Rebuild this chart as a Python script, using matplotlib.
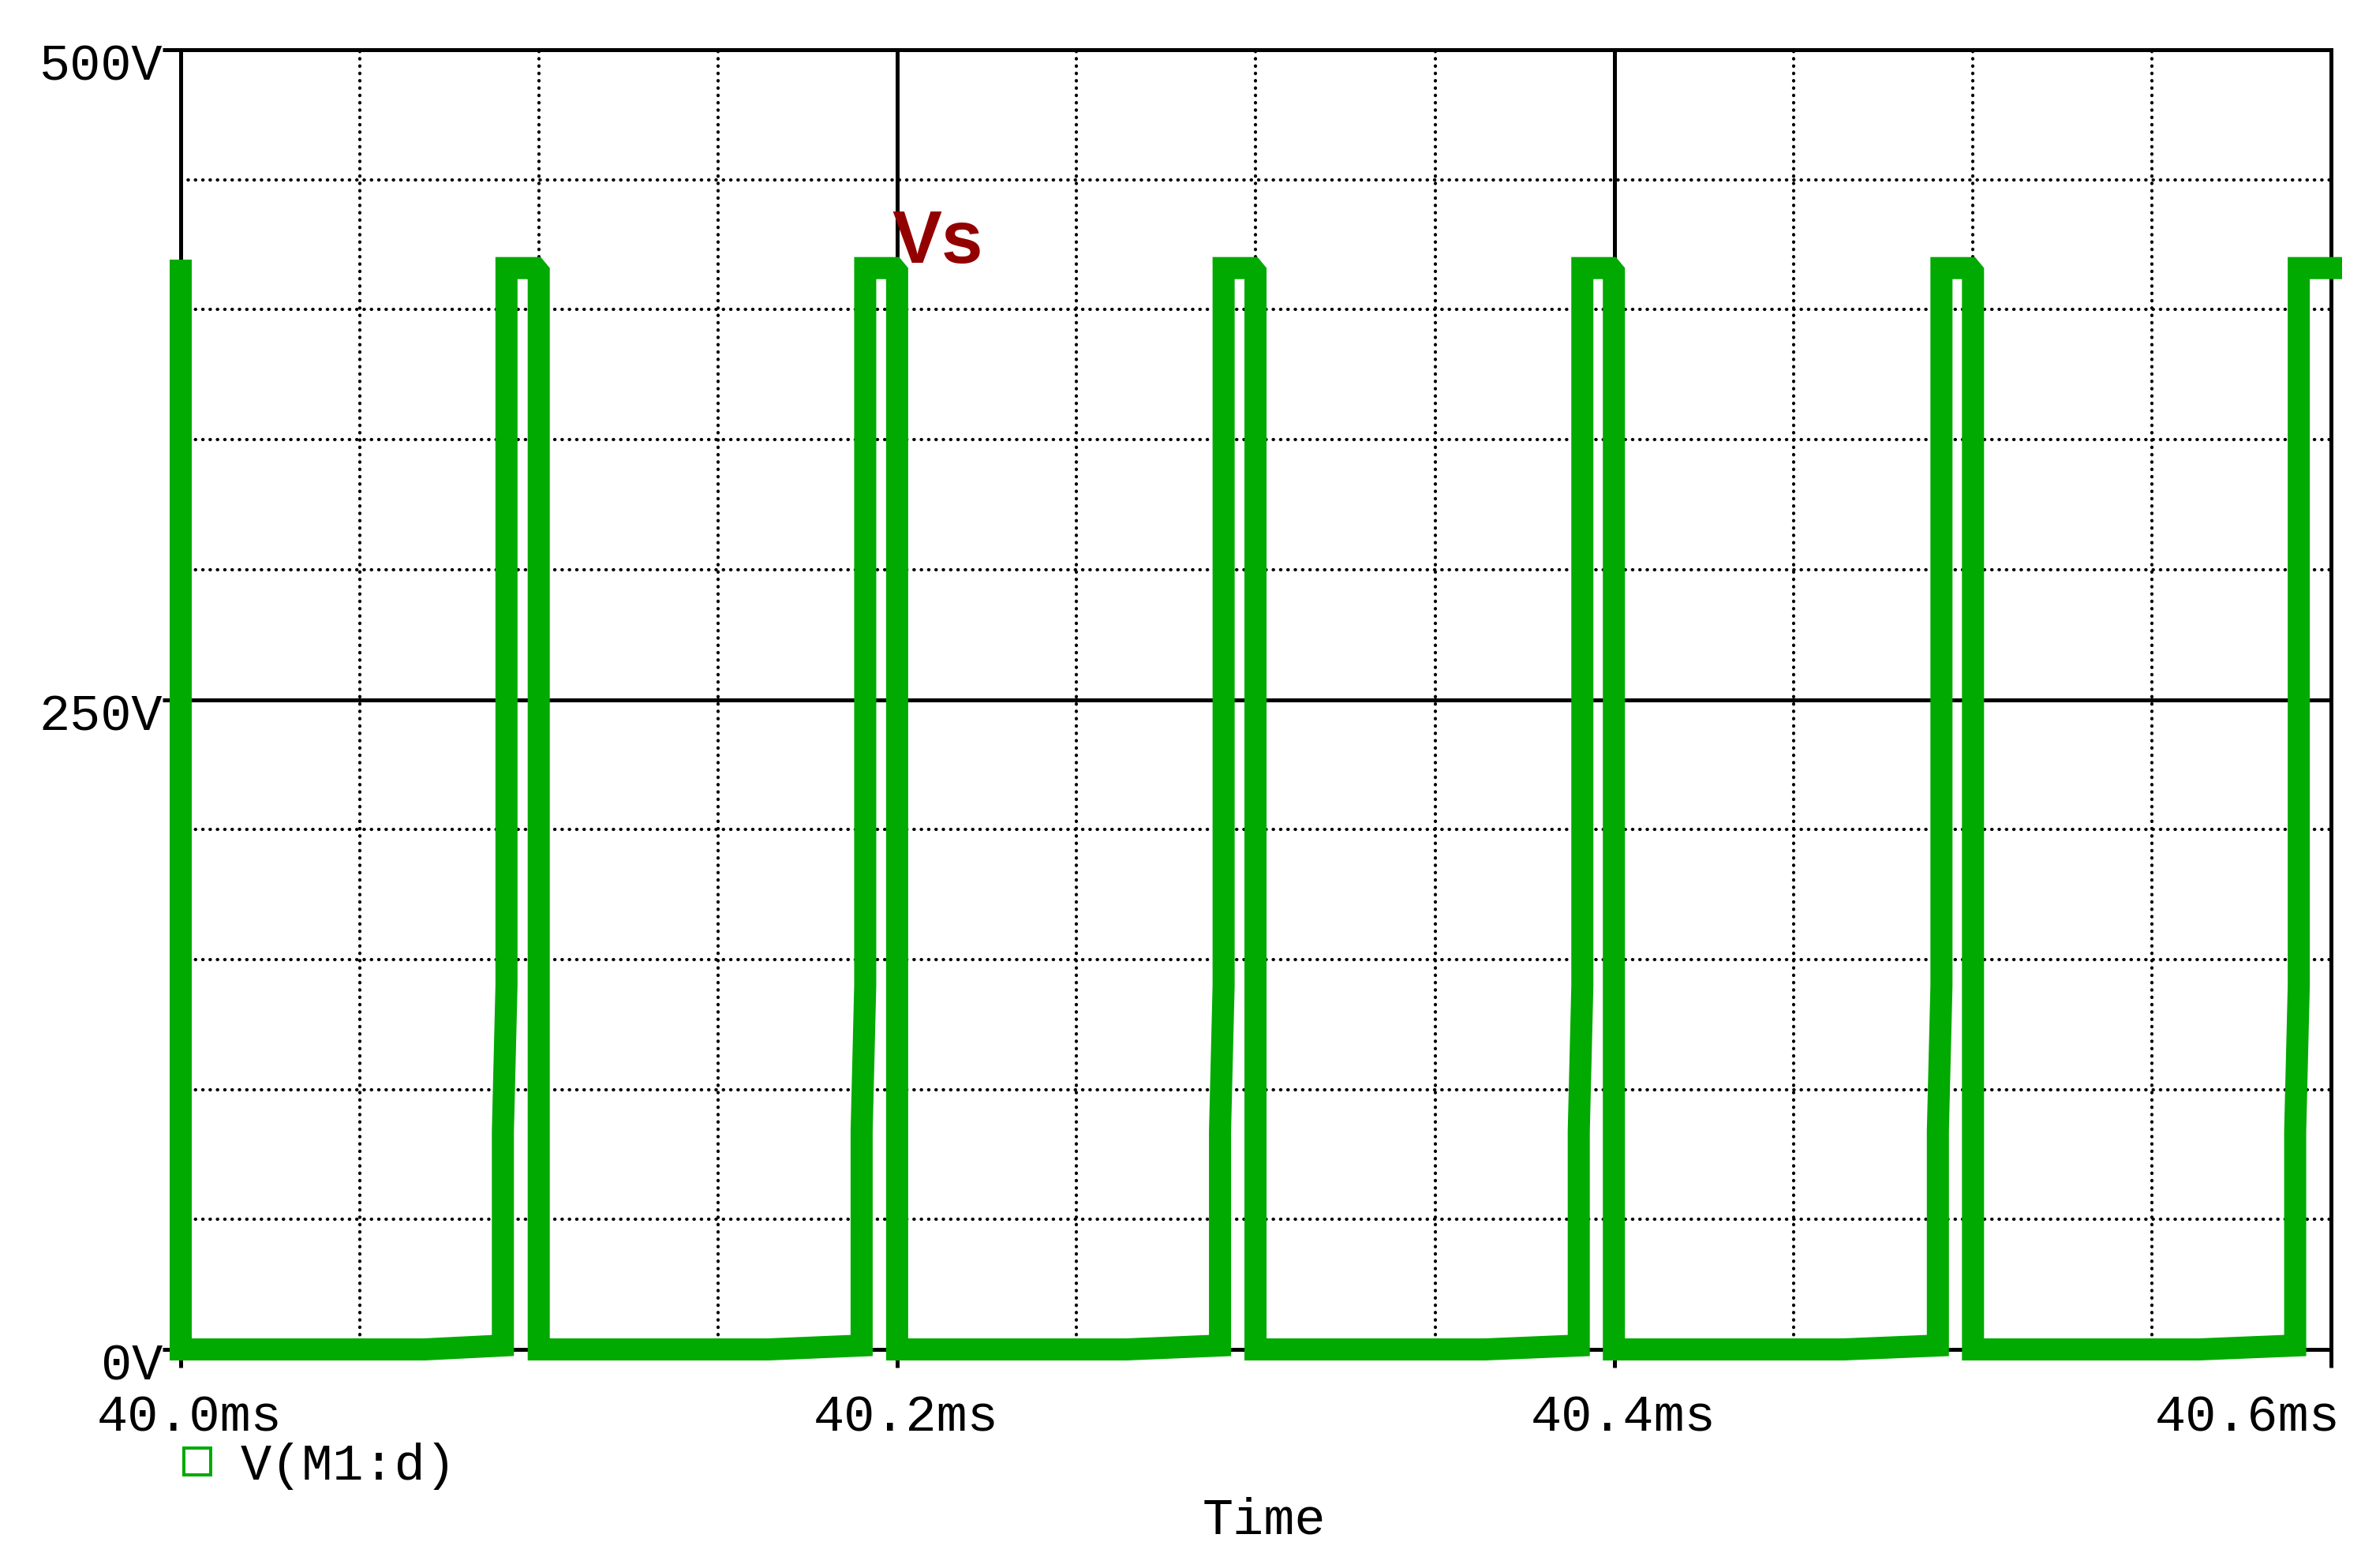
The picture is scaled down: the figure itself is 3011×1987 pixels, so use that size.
import numpy as np
import matplotlib
matplotlib.use("Agg")
import matplotlib.pyplot as plt
from matplotlib.lines import Line2D
from matplotlib.transforms import ScaledTranslation

# ---------------- data ----------------
time_ms = [
    40.0000, 40.0000,
    40.0680, 40.0899, 40.0899, 40.0909, 40.0909, 40.0990, 40.0999, 40.0999,
    40.1640, 40.1900, 40.1900, 40.1910, 40.1910, 40.1990, 40.1999, 40.1999,
    40.2640, 40.2900, 40.2900, 40.2910, 40.2910, 40.2990, 40.2999, 40.2999,
    40.3640, 40.3901, 40.3901, 40.3911, 40.3911, 40.3990, 40.3999, 40.3999,
    40.4640, 40.4903, 40.4903, 40.4913, 40.4913, 40.4992, 40.5001, 40.5001,
    40.5632, 40.5900, 40.5900, 40.5910, 40.5910, 40.6000,
]
volts = [
    415.0, 0.0,
    0.0, 1.5, 84.0, 140.0, 416.0, 416.0, 414.5, 0.0,
    0.0, 1.5, 84.0, 140.0, 416.0, 416.0, 414.5, 0.0,
    0.0, 1.5, 84.0, 140.0, 416.0, 416.0, 414.5, 0.0,
    0.0, 1.5, 84.0, 140.0, 416.0, 416.0, 414.5, 0.0,
    0.0, 1.5, 84.0, 140.0, 416.0, 416.0, 414.5, 0.0,
    0.0, 1.5, 84.0, 140.0, 416.0, 416.0,
]
x_ticks = [40.0, 40.2, 40.4, 40.6]
x_tick_labels = ["40.0ms", "40.2ms", "40.4ms", "40.6ms"]
y_ticks = [0, 250, 500]
y_tick_labels = ["0V", "250V", "500V"]
series_name = "V(M1:d)"
annotation_text = "Vs"
annotation_pos = (40.1985, 418.0)

# ---------------- style ----------------
W, H, DPI = 3011, 1987, 100
GREEN = "#00AA00"
DARKRED = "#930000"
MONO = ["Liberation Mono", "DejaVu Sans Mono"]
FS = 47

fig = plt.figure(figsize=(W / DPI, H / DPI), dpi=DPI)
ax = fig.add_axes([229 / W, 1 - 1710 / H, (2954 - 229) / W, (1710 - 63) / H])

ax.plot(time_ms, volts, color=GREEN, lw=28 * 72 / DPI,
        solid_joinstyle="miter", solid_capstyle="projecting",
        clip_on=False, zorder=5)

ax.set_xlim(40.0, 40.6)
ax.set_ylim(0, 500)

ax.set_xticks(x_ticks)
ax.set_xticklabels(x_tick_labels)
ax.set_yticks(y_ticks)
ax.set_yticklabels(y_tick_labels)

xminor = [v for v in np.round(np.arange(40.0, 40.6001, 0.05), 4)
          if not any(abs(v - m) < 1e-6 for m in x_ticks)]
yminor = [v for v in range(0, 501, 50) if v not in y_ticks]
ax.set_xticks(xminor, minor=True)
ax.set_yticks(yminor, minor=True)

ax.set_axisbelow(True)
lw_major = 5 * 72 / DPI
ax.grid(which="major", color="black", linewidth=lw_major, linestyle="-")
ax.grid(which="minor", color="black", linewidth=3.0,
        linestyle=(0, (0.1, 2.13)), dash_capstyle="round")

for sp in ax.spines.values():
    sp.set_linewidth(lw_major)
    sp.set_color("black")

ax.tick_params(which="major", direction="out", length=23 * 72 / DPI,
               width=lw_major, color="black")
ax.tick_params(axis="x", which="major", pad=24)
ax.tick_params(axis="y", which="major", pad=0)
ax.tick_params(which="minor", length=0)

for lab in ax.get_xticklabels() + ax.get_yticklabels():
    lab.set_fontfamily(MONO)
    lab.set_fontsize(FS)

for lab in ax.get_yticklabels():
    lab.set_transform(lab.get_transform() + ScaledTranslation(0, -15 / DPI, fig.dpi_scale_trans))
xl = ax.get_xticklabels()
for lab in xl:
    lab.set_transform(lab.get_transform() + ScaledTranslation(11 / DPI, 0, fig.dpi_scale_trans))
xl[-1].set_horizontalalignment("right")

ax.set_xlabel("Time", fontfamily=MONO, fontsize=FS)
ax.xaxis.set_label_coords((1602 - 229) / (2954 - 229), (1710 - 1927) / (1710 - 63))
ax.xaxis.label.set_verticalalignment("center")

ax.text(annotation_pos[0], annotation_pos[1], annotation_text,
        color=DARKRED, fontsize=68, fontweight="bold",
        fontfamily=["Liberation Sans", "DejaVu Sans"],
        ha="left", va="baseline", zorder=6)

handle = Line2D([], [], linestyle="none", marker="s", markersize=34 * 72 / DPI,
                markerfacecolor="none", markeredgecolor=GREEN,
                markeredgewidth=4 * 72 / DPI)
leg = fig.legend([handle], [series_name], loc="upper left",
                 bbox_to_anchor=(230 / W, 1 - 1828 / H),
                 frameon=False, borderpad=0, borderaxespad=0,
                 handlelength=0.6, handletextpad=0.55,
                 prop={"family": MONO, "size": FS})

fig.savefig("out.png", dpi=DPI, facecolor="white")
